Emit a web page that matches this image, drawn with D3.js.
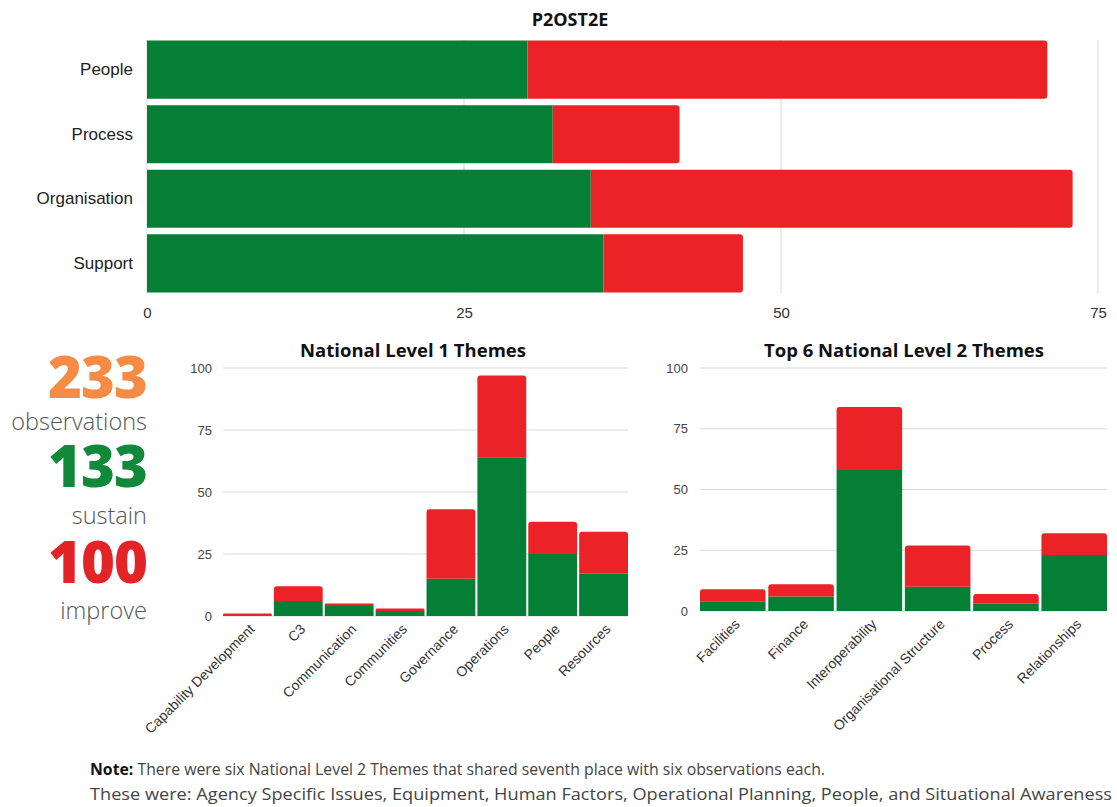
<!DOCTYPE html>
<html>
<head>
<meta charset="utf-8">
<script src="https://cdn.jsdelivr.net/npm/d3@7"></script>
<style>
  html, body { margin: 0; padding: 0; background: #fff; }
  svg { display: block; }
</style>
</head>
<body>
<svg id="chart" width="1117" height="807"></svg>
<script>
// P2OST2E themes: sustain vs improve observations
const themes = ["People", "Process", "Organisation", "Support"];
const themeSustain = [30, 32, 35, 36];
const themeImprove = [41, 10, 38, 11];
const themeTicks = [0, 25, 50, 75];

// National Level 1 themes
const level1Labels = ["Capability Development", "C3", "Communication", "Communities",
                      "Governance", "Operations", "People", "Resources"];
const level1Sustain = [0, 6, 4, 2, 15, 64, 25, 17];
const level1Improve = [1, 6, 1, 1, 28, 33, 13, 17];

// Top 6 National Level 2 themes
const level2Labels = ["Facilities", "Finance", "Interoperability", "Organisational Structure",
                      "Process", "Relationships"];
const level2Sustain = [4, 6, 58, 10, 3, 23];
const level2Improve = [5, 5, 26, 17, 4, 9];

const columnTicks = [0, 25, 50, 75, 100];

const GREEN = "#067f36";
const RED = "#ec2326";
const GRID = "#d9d9d9";
const AXIS_FONT = "'Liberation Sans', Arial, sans-serif";
const TITLE_FONT = "'Open Sans', sans-serif";

const svg = d3.select("#chart");

// Path for a rectangle with rounded corners on one side only
function roundedRect(x, y, w, h, r, side) {
  r = Math.max(0, Math.min(r, w / 2, h / 2));
  if (side === "right") {
    return `M${x},${y}H${x + w - r}Q${x + w},${y} ${x + w},${y + r}` +
           `V${y + h - r}Q${x + w},${y + h} ${x + w - r},${y + h}H${x}Z`;
  }
  // rounded on top
  return `M${x},${y + h}V${y + r}Q${x},${y} ${x + r},${y}H${x + w - r}` +
         `Q${x + w},${y} ${x + w},${y + r}V${y + h}Z`;
}

function stackRows(labels, sustain, improve) {
  const rows = labels.map((l, i) => ({ label: l, sustain: sustain[i], improve: improve[i] }));
  return d3.stack().keys(["sustain", "improve"])(rows);
}

// ---------- Top horizontal stacked bar chart ----------
{
  const x = d3.scaleLinear().domain([0, 75]).range([147, 1098]);
  const y = d3.scaleBand().domain(themes).range([38, 295]).paddingInner(0.1).paddingOuter(0.04);
  const g = svg.append("g");

  g.append("text")
    .attr("x", 570).attr("y", 26)
    .attr("text-anchor", "middle")
    .style("font-family", TITLE_FONT).style("font-weight", 700).style("font-size", "18px")
    .attr("fill", "#111")
    .text("P2OST2E");

  g.append("g").selectAll("line").data(themeTicks).join("line")
    .attr("x1", d => x(d)).attr("x2", d => x(d))
    .attr("y1", 40).attr("y2", 293)
    .attr("stroke", GRID).attr("stroke-width", 1);

  const series = stackRows(themes, themeSustain, themeImprove);
  const colors = { sustain: GREEN, improve: RED };
  series.forEach(s => {
    g.append("g").selectAll("path").data(s).join("path")
      .attr("fill", colors[s.key])
      .attr("d", d => {
        const x0 = x(d[0]), x1 = x(d[1]);
        const yy = y(d.data.label), h = y.bandwidth();
        if (s.key === "improve") return roundedRect(x0, yy, x1 - x0, h, 3, "right");
        return `M${x0},${yy}H${x1}V${yy + h}H${x0}Z`;
      });
  });

  const yAxis = g.append("g").attr("transform", "translate(133,0)")
    .call(d3.axisLeft(y).tickSize(0).tickPadding(0));
  yAxis.select(".domain").remove();
  yAxis.selectAll("text")
    .style("font-family", AXIS_FONT).style("font-size", "17px").attr("fill", "#222");

  const xAxis = g.append("g").attr("transform", "translate(0,293)")
    .call(d3.axisBottom(x).tickValues(themeTicks).tickSize(0).tickPadding(14));
  xAxis.select(".domain").remove();
  xAxis.selectAll("text")
    .style("font-family", AXIS_FONT).style("font-size", "15px").attr("fill", "#333");
}

// ---------- Summary figures ----------
{
  const totalSustain = d3.sum(themeSustain);
  const totalImprove = d3.sum(themeImprove);
  const totalObs = totalSustain + totalImprove;
  const figures = [
    { value: totalObs, word: "observations", color: "#f68b45", y: 398, wy: 430 },
    { value: totalSustain, word: "sustain", color: "#10893a", y: 487, wy: 524 },
    { value: totalImprove, word: "improve", color: "#e42327", y: 583, wy: 619 }
  ];
  const g = svg.append("g");
  figures.forEach(f => {
    g.append("text")
      .attr("x", 147).attr("y", f.y)
      .attr("text-anchor", "end")
      .style("font-family", "'Open Sans', sans-serif").style("font-weight", 800)
      .style("font-size", "58px").style("letter-spacing", "-1px")
      .attr("fill", f.color)
      .text(f.value);
    g.append("text")
      .attr("x", 147).attr("y", f.wy)
      .attr("text-anchor", "end")
      .style("font-family", "'Open Sans', sans-serif").style("font-weight", 300)
      .style("font-size", "23.5px")
      .attr("fill", "#555")
      .text(f.word);
  });
}

// ---------- Column chart helper ----------
function columnChart(opts) {
  const { labels, sustain, improve, x0, x1, yTop, yBottom, title, titleX, tickRight } = opts;
  const x = d3.scaleBand().domain(labels).range([x0, x1]).paddingInner(0.04).paddingOuter(0);
  const y = d3.scaleLinear().domain([0, 100]).range([yBottom, yTop]);
  const g = svg.append("g");

  g.append("text")
    .attr("x", titleX).attr("y", 357)
    .attr("text-anchor", "middle")
    .style("font-family", TITLE_FONT).style("font-weight", 700).style("font-size", "18.5px")
    .attr("fill", "#111")
    .text(title);

  g.append("g").selectAll("line").data(columnTicks).join("line")
    .attr("x1", x0).attr("x2", x1)
    .attr("y1", d => y(d)).attr("y2", d => y(d))
    .attr("stroke", GRID).attr("stroke-width", 1);

  const series = stackRows(labels, sustain, improve);
  const colors = { sustain: GREEN, improve: RED };
  series.forEach(s => {
    g.append("g").selectAll("path").data(s).join("path")
      .attr("fill", colors[s.key])
      .attr("d", d => {
        const xx = x(d.data.label), w = x.bandwidth();
        const ya = y(d[1]), yb = y(d[0]);
        if (s.key === "improve") return roundedRect(xx, ya, w, yb - ya, 3, "top");
        return `M${xx},${ya}H${xx + w}V${yb}H${xx}Z`;
      });
  });

  const yAxis = g.append("g").attr("transform", `translate(${tickRight},0)`)
    .call(d3.axisLeft(y).tickValues(columnTicks).tickSize(0).tickPadding(0));
  yAxis.select(".domain").remove();
  yAxis.selectAll("text")
    .style("font-family", AXIS_FONT).style("font-size", "13px").attr("fill", "#444");

  g.append("g").selectAll("text").data(labels).join("text")
    .attr("transform", d => `translate(${x(d) + x.bandwidth() / 2 + 8},${yBottom + 14}) rotate(-45)`)
    .attr("text-anchor", "end")
    .style("font-family", AXIS_FONT).style("font-size", "14px").attr("fill", "#333")
    .text(d => d);
}

columnChart({
  labels: level1Labels, sustain: level1Sustain, improve: level1Improve,
  x0: 223, x1: 628, yTop: 368, yBottom: 616,
  title: "National Level 1 Themes", titleX: 413, tickRight: 212
});

columnChart({
  labels: level2Labels, sustain: level2Sustain, improve: level2Improve,
  x0: 700, x1: 1107, yTop: 368, yBottom: 611,
  title: "Top 6 National Level 2 Themes", titleX: 904, tickRight: 688
});

// ---------- Note ----------
{
  const g = svg.append("g")
    .style("font-family", "'Open Sans', sans-serif").style("font-size", "15.5px").attr("fill", "#444");
  const line1 = g.append("text").attr("x", 90).attr("y", 775)
    .attr("textLength", 735).attr("lengthAdjust", "spacingAndGlyphs");
  line1.append("tspan").style("font-weight", 700).attr("fill", "#111").text("Note:");
  line1.append("tspan").text(" There were six National Level 2 Themes that shared seventh place with six observations each.");
  g.append("text").attr("x", 90).attr("y", 800)
    .attr("textLength", 1022).attr("lengthAdjust", "spacingAndGlyphs")
    .text("These were: Agency Specific Issues, Equipment, Human Factors, Operational Planning, People, and Situational Awareness");
}
</script>
</body>
</html>
